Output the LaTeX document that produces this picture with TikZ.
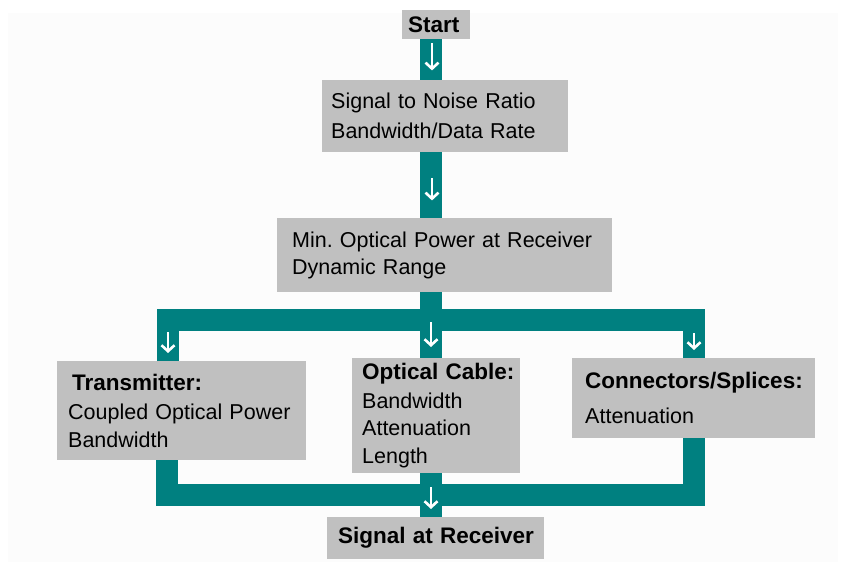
\documentclass[tikz,border=0pt]{standalone}
\usepackage{fontspec}
\setmainfont{Liberation Sans}
\usetikzlibrary{arrows.meta,calc}
\frenchspacing
\definecolor{pipeteal}{HTML}{008080}
\definecolor{boxgray}{HTML}{C0C0C0}
\definecolor{bgfaint}{HTML}{FCFCFC}
\newcommand\regsz{\fontsize{21.5}{27.5}\selectfont}
\newcommand\boldsz{\fontsize{22.5}{28}\selectfont\bfseries}
\tikzset{
  box/.style={fill=boxgray, anchor=north west, inner ysep=0pt, align=left, font=\regsz},
  pipe/.style={draw=pipeteal, line width=22pt},
  warrow/.style={draw=white, line width=2.6pt, -{Straight Barb[length=6pt,width=13pt]}}
}
\begin{document}
\begin{tikzpicture}[x=1pt,y=-1pt]
\useasboundingbox (0,0) rectangle (843,567);
\fill[bgfaint] (8,13) rectangle (838,562);
% nodes
\node[box, inner xsep=6pt, text width=56pt, minimum height=29pt] (start) at (402,10) {\mbox{\boldsz Start}};
\node[box, inner xsep=9pt, text width=228pt, minimum height=72pt] (snr) at (322,80)
  {\mbox{Signal to Noise Ratio}\\[2.5pt]\mbox{Bandwidth/Data Rate}};
\node[box, inner xsep=15pt, text width=305pt, minimum height=74pt] (mop) at (277,218)
  {\mbox{Min.\ Optical Power at Receiver}\\\mbox{Dynamic Range}};
\node[box, inner xsep=11pt, text width=227pt, minimum height=99pt] (tx) at (57,361)
  {\hspace*{4pt}\mbox{\boldsz Transmitter:}\\[2pt]\mbox{Coupled Optical Power}\\\mbox{Bandwidth}};
\node[box, inner xsep=10pt, text width=148pt, minimum height=115pt] (oc) at (352,358)
  {\mbox{\boldsz Optical Cable:}\\[1pt]\mbox{Bandwidth}\\\mbox{Attenuation}\\\mbox{Length}};
\node[box, inner xsep=13pt, text width=217pt, minimum height=80pt] (cs) at (572,358)
  {\mbox{\boldsz Connectors/Splices:}\\[8pt]\mbox{Attenuation}};
\node[box, inner xsep=11pt, text width=195pt, minimum height=42pt] (sig) at (327,517)
  {\mbox{\boldsz Signal at Receiver}};
% pipe guide coordinates
\coordinate (cx) at (431,0);
\coordinate (tl) at (168,320);
\coordinate (tc) at (431,320);
\coordinate (tr) at (694,320);
\coordinate (bl) at (166.5,495);
\coordinate (bc) at (431,495);
\coordinate (br) at (694,495);
% pipes
\draw[pipe] (start.south -| cx) -- (snr.north -| cx);
\draw[pipe] (snr.south -| cx) -- (mop.north -| cx);
\draw[pipe] (mop.south -| cx) -- (oc.north -| cx);
\draw[pipe] (tx.north -| tl) -- (tl) -- (tr) -- (cs.north -| tr);
\draw[pipe] (tx.south -| bl) -- (bl) -- (br) -- (cs.south -| br);
\draw[pipe] (oc.south -| cx) -- (sig.north -| cx);
% white arrows
\draw[warrow] ($(start.south -| cx)+(1,4)$) -- ++(0,27);
\draw[warrow] ($(snr.south -| cx)+(1,26)$) -- ++(0,22);
\draw[warrow] ($(tl)+(0,12)$) -- ++(0,21);
\draw[warrow] ($(tc)+(0,2)$) -- ++(0,25);
\draw[warrow] ($(tr)+(0,13)$) -- ++(0,17);
\draw[warrow] ($(bc)+(0,-8)$) -- ++(0,22);
\end{tikzpicture}
\end{document}
